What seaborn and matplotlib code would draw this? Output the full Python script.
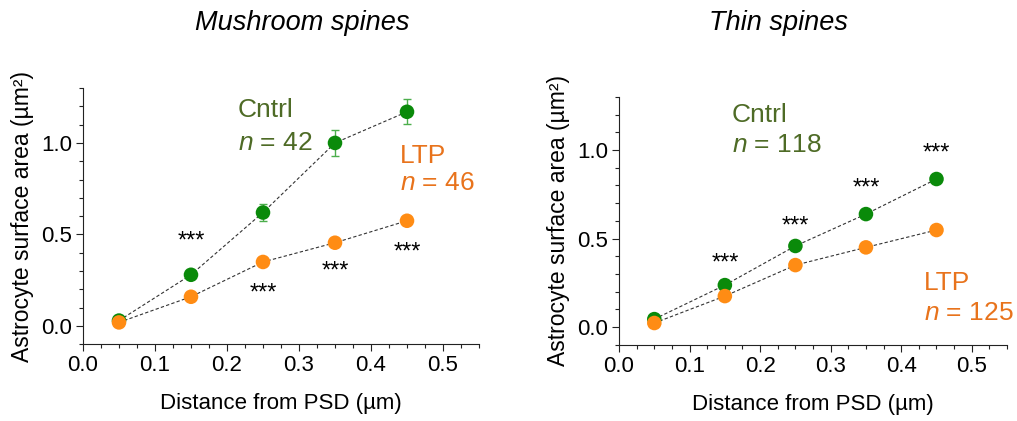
import numpy as np
import pandas as pd
import matplotlib
matplotlib.use("Agg")
import matplotlib.pyplot as plt
import seaborn as sns
from matplotlib.ticker import MultipleLocator

# ---------------- data ----------------
distance = [0.05, 0.15, 0.25, 0.35, 0.45]

mush_cntrl = [0.03, 0.28, 0.62, 1.00, 1.17]
mush_cntrl_err = [0.02, 0.02, 0.045, 0.07, 0.068]
mush_ltp = [0.02, 0.16, 0.35, 0.455, 0.575]

thin_cntrl = [0.045, 0.237, 0.458, 0.638, 0.836]
thin_cntrl_err = [0.01, 0.012, 0.015, 0.015, 0.015]
thin_ltp = [0.023, 0.175, 0.35, 0.45, 0.548]

mush_star_x = [0.15, 0.25, 0.35, 0.45]
mush_star_y = [0.49, 0.21, 0.33, 0.43]
thin_star_x = [0.15, 0.25, 0.35, 0.45]
thin_star_y = [0.39, 0.60, 0.81, 1.01]

titles = ["Mushroom spines", "Thin spines"]
n_cntrl = [42, 118]
n_ltp = [46, 125]

# ---------------- style ----------------
sns.set_style("ticks")
plt.rcParams["font.family"] = ["Liberation Sans", "DejaVu Sans"]
plt.rcParams["mathtext.fontset"] = "custom"
plt.rcParams["mathtext.rm"] = "Liberation Sans"
plt.rcParams["mathtext.it"] = "Liberation Sans:italic"
plt.rcParams["text.color"] = "black"
plt.rcParams["axes.labelcolor"] = "black"

GREEN = "#0a8a0a"
ERR_GREEN = "#4cae4c"
ORANGE = "#ff8c14"
TXT_GREEN = "#4e6b26"
TXT_ORANGE = "#e8731c"

fig = plt.figure(figsize=(10.17, 4.21), dpi=100)
ax1 = fig.add_axes([0.0816, 0.182, 0.3894, 0.609])
ax2 = fig.add_axes([0.6087, 0.181, 0.3815, 0.589])

panels = [
    (ax1, mush_cntrl, mush_cntrl_err, mush_ltp, mush_star_x, mush_star_y),
    (ax2, thin_cntrl, thin_cntrl_err, thin_ltp, thin_star_x, thin_star_y),
]

STAR_SHIFT = -0.03  # asterisks sit high in the glyph box

for i, (ax, cy, ce, ly, sx, sy) in enumerate(panels):
    df = pd.DataFrame({
        "x": distance * 2,
        "y": cy + ly,
        "grp": ["Cntrl"] * 5 + ["LTP"] * 5,
    })
    for g in ["Cntrl", "LTP"]:
        sub = df[df.grp == g]
        sns.lineplot(data=sub, x="x", y="y", ax=ax, color="#333333",
                     linestyle=(0, (3, 2)), linewidth=0.8, zorder=2, legend=False)
    ax.errorbar(distance, cy, yerr=ce, fmt="none", ecolor=ERR_GREEN,
                elinewidth=1, capsize=3, capthick=1, zorder=2.5)
    sns.scatterplot(data=df, x="x", y="y", hue="grp",
                    palette={"Cntrl": GREEN, "LTP": ORANGE},
                    s=110, linewidth=0, ax=ax, zorder=3, legend=False)

    for xx, yy in zip(sx, sy):
        ax.text(xx, yy + STAR_SHIFT, "***", ha="center", va="center",
                fontsize=17, color="black")

    ax.set_xlim(0, 0.55)
    ax.set_ylim(-0.1, 1.3)
    ax.xaxis.set_major_locator(MultipleLocator(0.1))
    ax.xaxis.set_minor_locator(MultipleLocator(0.025))
    ax.yaxis.set_major_locator(MultipleLocator(0.5))
    ax.yaxis.set_minor_locator(MultipleLocator(0.1))
    ax.tick_params(which="major", direction="out", length=5, width=0.8,
                   labelsize=16, colors="#222222", pad=3)
    ax.tick_params(which="minor", direction="out", length=3, width=0.8, colors="#222222")
    ax.tick_params(labelcolor="black")
    for sp in ["left", "bottom"]:
        ax.spines[sp].set_linewidth(0.8)
        ax.spines[sp].set_color("#222222")
    sns.despine(ax=ax)
    ax.set_xlabel("Distance from PSD (µm)", fontsize=16, labelpad=12)
    ax.set_ylabel("Astrocyte surface area (µm²)", fontsize=16.5, labelpad=5)

fig.text(0.297, 0.945, titles[0], ha="center", va="center", fontsize=19.5, style="italic")
fig.text(0.765, 0.945, titles[1], ha="center", va="center", fontsize=19.5, style="italic")

# group labels
ax1.text(0.215, 1.18, "Cntrl", color=TXT_GREEN, fontsize=19, ha="left", va="center")
ax1.text(0.215, 1.00, "$n$ = %d" % n_cntrl[0], color=TXT_GREEN, fontsize=19, ha="left", va="center")
ax1.text(0.440, 0.93, "LTP", color=TXT_ORANGE, fontsize=19, ha="left", va="center")
ax1.text(0.440, 0.78, "$n$ = %d" % n_ltp[0], color=TXT_ORANGE, fontsize=19, ha="left", va="center")

ax2.text(0.160, 1.20, "Cntrl", color=TXT_GREEN, fontsize=19, ha="left", va="center")
ax2.text(0.160, 1.03, "$n$ = %d" % n_cntrl[1], color=TXT_GREEN, fontsize=19, ha="left", va="center")
ax2.text(0.432, 0.25, "LTP", color=TXT_ORANGE, fontsize=19, ha="left", va="center")
ax2.text(0.432, 0.08, "$n$ = %d" % n_ltp[1], color=TXT_ORANGE, fontsize=19, ha="left", va="center")

fig.savefig("out.png", dpi=100)
